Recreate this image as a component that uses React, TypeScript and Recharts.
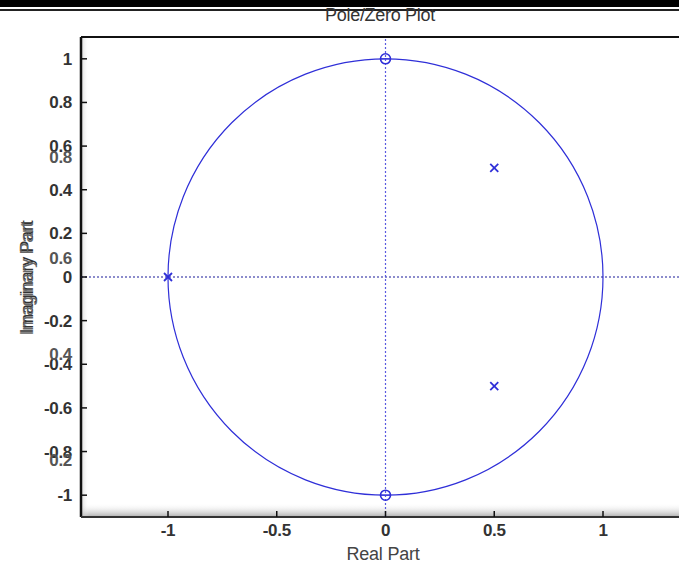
import React from 'react';
import { ScatterChart, Scatter, XAxis, YAxis, ReferenceLine, ReferenceArea } from 'recharts';

const xTicks = [-1, -0.5, 0, 0.5, 1];
const yTicks = [-1, -0.8, -0.6, -0.4, -0.2, 0, 0.2, 0.4, 0.6, 0.8, 1];
// stray duplicate labels printed over the y axis in the original figure
const ghostYValues = [0.55, 0.087, -0.353, -0.84];
const ghostYLabels = ['0.8', '0.6', '0.4', '0.2'];
const zeroRe = [0, 0];
const zeroIm = [1, -1];
const poleRe = [-1, 0.5, 0.5];
const poleIm = [0, 0.5, -0.5];
const circleRadius = 1;
const xDomain = [-1.4, 1.4];
const yDomain = [-1.1, 1.1];

const zeros = zeroRe.map((re, i) => ({ re, im: zeroIm[i] }));
const poles = poleRe.map((re, i) => ({ re, im: poleIm[i] }));

const FONT = '"Liberation Sans", Arial, Helvetica, sans-serif';
const BLUE = '#2f2fd8';
const TICK_COLOR = '#333';

function fmt(v: number): string {
  return String(Math.round(v * 10) / 10);
}

const BottomTick = (props: any) => {
  const { x, y, payload } = props;
  return (
    <g>
      <line x1={x} x2={x} y1={y} y2={y - 6} stroke="#111" strokeWidth={1.5} />
      <text x={x} y={y + 19} textAnchor="middle" fill={TICK_COLOR} fontSize={17} fontWeight="bold" fontFamily={FONT} letterSpacing={-0.3}>
        {fmt(payload.value)}
      </text>
    </g>
  );
};

const TopTick = (props: any) => {
  const { x, y } = props;
  return <line x1={x} x2={x} y1={y} y2={y + 6} stroke="#111" strokeWidth={1.5} />;
};

const LeftTick = (props: any) => {
  const { x, y, payload } = props;
  const gi = ghostYValues.indexOf(payload.value);
  if (gi >= 0) {
    return (
      <text x={x - 9} y={y + 6} textAnchor="end" fill="#555" fontSize={17} fontWeight="bold" fontFamily={FONT} letterSpacing={-0.3}>
        {ghostYLabels[gi]}
      </text>
    );
  }
  return (
    <g>
      <line x1={x} x2={x + 6} y1={y} y2={y} stroke="#111" strokeWidth={1.5} />
      <text x={x - 9} y={y + 6} textAnchor="end" fill={TICK_COLOR} fontSize={17} fontWeight="bold" fontFamily={FONT} letterSpacing={-0.3}>
        {fmt(payload.value)}
      </text>
    </g>
  );
};

const Frame = (props: any) => {
  const { x, y, width, height } = props;
  return (
    <g>
      <defs>
        <linearGradient id="bottomShade" x1="0" y1="0" x2="0" y2="1">
          <stop offset="0%" stopColor="#fff" stopOpacity={0} />
          <stop offset="100%" stopColor="#999" stopOpacity={0.8} />
        </linearGradient>
        <linearGradient id="leftShade" x1="0" y1="0" x2="1" y2="0">
          <stop offset="0%" stopColor="#bbb" stopOpacity={0.6} />
          <stop offset="100%" stopColor="#fff" stopOpacity={0} />
        </linearGradient>
      </defs>
      <rect x={x} y={y + height - 14} width={width} height={14} fill="url(#bottomShade)" />
      <rect x={x} y={y} width={8} height={height} fill="url(#leftShade)" />
      <line x1={x} x2={x + width} y1={y} y2={y} stroke="#111" strokeWidth={2} />
      <line x1={x} x2={x} y1={y} y2={y + height} stroke="#111" strokeWidth={2.5} />
      <line x1={x} x2={x + width} y1={y + height} y2={y + height} stroke="#333" strokeWidth={2} />
    </g>
  );
};

const UnitCircle = (props: any) => {
  const { x, y, width, height } = props;
  return (
    <ellipse cx={x + width / 2} cy={y + height / 2} rx={width / 2} ry={height / 2} fill="none" stroke={BLUE} strokeWidth={1.2} />
  );
};

const ZeroMark = (props: any) => {
  const { cx, cy } = props;
  return (
    <g>
      <circle cx={cx} cy={cy} r={5} fill="none" stroke={BLUE} strokeWidth={1.6} />
      <line x1={cx - 5} x2={cx + 5} y1={cy} y2={cy} stroke={BLUE} strokeWidth={1} />
    </g>
  );
};

const PoleMark = (props: any) => {
  const { cx, cy } = props;
  const s = 4;
  return (
    <g stroke={BLUE} strokeWidth={1.8}>
      <line x1={cx - s} x2={cx + s} y1={cy - s} y2={cy + s} />
      <line x1={cx - s} x2={cx + s} y1={cy + s} y2={cy - s} />
    </g>
  );
};

export default function App() {
  return (
    <div
      style={{
        position: 'absolute',
        left: 0,
        top: 0,
        width: 679,
        height: 566,
        overflow: 'hidden',
        background: '#fff',
        fontFamily: FONT,
      }}
    >
      <div style={{ position: 'absolute', left: 0, top: 0, width: 679, height: 7, background: '#000' }} />
      <div style={{ position: 'absolute', left: 0, top: 9, width: 679, height: 2, background: '#222' }} />
      <div
        style={{
          position: 'absolute',
          left: 280,
          top: 5,
          width: 200,
          textAlign: 'center',
          fontSize: 18,
          color: '#333',
          letterSpacing: -0.3,
        }}
      >
        Pole/Zero Plot
      </div>
      <div
        style={{
          position: 'absolute',
          left: 283,
          top: 544,
          width: 200,
          textAlign: 'center',
          fontSize: 18,
          color: '#444',
          letterSpacing: -0.2,
        }}
      >
        Real Part
      </div>
      {[0, 2].map((off) => (
        <div
          key={off}
          style={{
            position: 'absolute',
            left: 27 - 100,
            top: 268 + off,
            width: 200,
            textAlign: 'center',
            fontSize: 18,
            color: off ? '#666' : '#333',
            letterSpacing: -0.3,
            transform: 'rotate(-90deg)',
            lineHeight: '18px',
          }}
        >
          Imaginary Part
        </div>
      ))}
      <div style={{ position: 'absolute', left: 0, top: 0 }}>
        <ScatterChart width={700} height={566} margin={{ top: 0, right: 10, bottom: 0, left: 0 }}>
          <XAxis
            type="number"
            dataKey="re"
            domain={xDomain}
            ticks={xTicks}
            interval={0}
            allowDataOverflow
            axisLine={false}
            tickLine={false}
            tickSize={0}
            tickMargin={0}
            height={49}
            tick={<BottomTick />}
          />
          <XAxis
            xAxisId="top"
            orientation="top"
            type="number"
            domain={xDomain}
            ticks={xTicks}
            interval={0}
            allowDataOverflow
            axisLine={false}
            tickLine={false}
            tickSize={0}
            tickMargin={0}
            height={37}
            tick={<TopTick />}
          />
          <YAxis
            type="number"
            dataKey="im"
            domain={yDomain}
            ticks={[...yTicks, ...ghostYValues]}
            interval={0}
            allowDataOverflow
            axisLine={false}
            tickLine={false}
            tickSize={0}
            tickMargin={0}
            width={81}
            tick={<LeftTick />}
          />
          <ReferenceArea
            x1={xDomain[0]}
            x2={xDomain[1]}
            y1={yDomain[0]}
            y2={yDomain[1]}
            ifOverflow="visible"
            shape={<Frame />}
          />
          <ReferenceLine y={0} stroke="#1a1a9a" strokeDasharray="2 2" strokeWidth={1.2} />
          <ReferenceLine x={0} stroke="#5a5ae0" strokeDasharray="2 2" strokeWidth={1.2} />
          <ReferenceArea
            x1={-circleRadius}
            x2={circleRadius}
            y1={-circleRadius}
            y2={circleRadius}
            ifOverflow="visible"
            shape={<UnitCircle />}
          />
          <Scatter data={zeros} shape={<ZeroMark />} isAnimationActive={false} />
          <Scatter data={poles} shape={<PoleMark />} isAnimationActive={false} />
        </ScatterChart>
      </div>
    </div>
  );
}
